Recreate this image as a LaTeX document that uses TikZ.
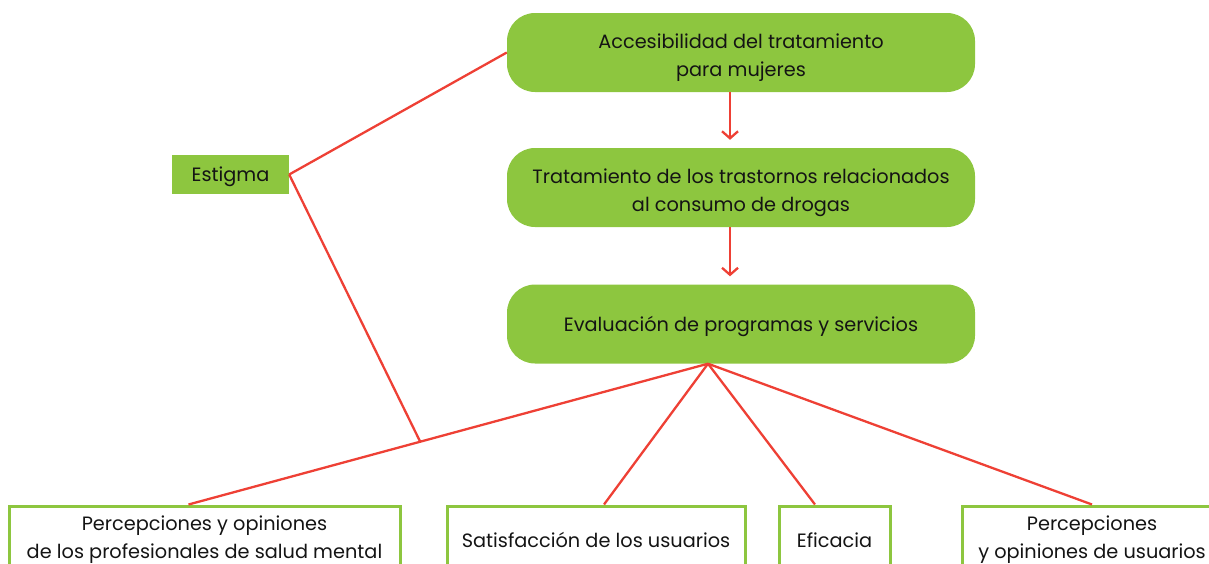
\documentclass[tikz,border=0pt]{standalone}
\usepackage{fontspec}
\setmainfont{Poppins}
\usetikzlibrary{arrows.meta,calc,positioning}
\definecolor{boxgreen}{HTML}{8DC63F}
\definecolor{linkred}{HTML}{EE4035}
\definecolor{inktext}{HTML}{141414}
\newcommand{\boxfont}{\fontsize{19.3}{28}\selectfont}
\newcommand{\topstrut}{\rule{0pt}{20pt}}
\tikzset{%
	mainbox/.style = {fill=boxgreen, rounded corners=28pt, minimum width=468pt, minimum height=79pt, align=center, text depth=-1pt, text=inktext, font=\boxfont}, % green step
	tag/.style     = {fill=boxgreen, minimum width=117pt, minimum height=39pt, text depth=-1pt, text=inktext, font=\boxfont}, % side label
	leaf/.style    = {draw=boxgreen, line width=3pt, fill=white, minimum height=68pt, align=center, text=inktext, font=\boxfont}, % outcome
	link/.style    = {draw=linkred, line width=2.3pt},
	arrow/.style   = {link, -{Straight Barb[length=7pt,width=16pt,line width=2.3pt]}},
}
\begin{document}
\begin{tikzpicture}[x=1pt,y=-1pt]
	\useasboundingbox (0,0) rectangle (1209,563);
	\clip (0,0) rectangle (1209,563);
	\node [mainbox] (acc) at (741,52.5) {\topstrut Accesibilidad del tratamiento\\para mujeres};
	\node [mainbox] (trat) at (741,187.5) {\topstrut Tratamiento de los trastornos relacionados\\al consumo de drogas};
	\node [mainbox] (eval) at (741,324) {Evaluación de programas y servicios};
	\node [tag] (estigma) at (230.5,174.5) {Estigma};
	\node [leaf, minimum width=391pt] (profes) at (204.5,540) {Percepciones y opiniones\\de los profesionales de salud mental};
	\node [leaf, minimum width=298pt] (satis) at (596,540) {Satisfacción de los usuarios};
	\node [leaf, minimum width=111pt] (efic) at (834.5,540) {Eficacia};
	\node [leaf, minimum width=260pt] (usuar) at (1092,540) {Percepciones\\y opiniones de usuarios};
	\coordinate (hub) at ([xshift=-33pt]eval.south);
	
	\draw [arrow] ([xshift=-11pt]acc.south) -- ([xshift=-11pt,yshift=8pt]trat.north);
	\draw [arrow] ([xshift=-11pt]trat.south) -- ([xshift=-11pt,yshift=8pt]eval.north);
	\draw [link] (estigma.east) -- (acc.west);
	\draw [link] (hub) -- coordinate[pos=0.554] (meet) ([xshift=-16pt]profes.north);
	\draw [link] (estigma.east) -- (meet);
	\draw [link] (hub) -- ([xshift=8pt]satis.north);
	\draw [link] (hub) -- ([xshift=-19.5pt]efic.north);
	\draw [link] (hub) -- (usuar.north);
\end{tikzpicture}
\end{document}
